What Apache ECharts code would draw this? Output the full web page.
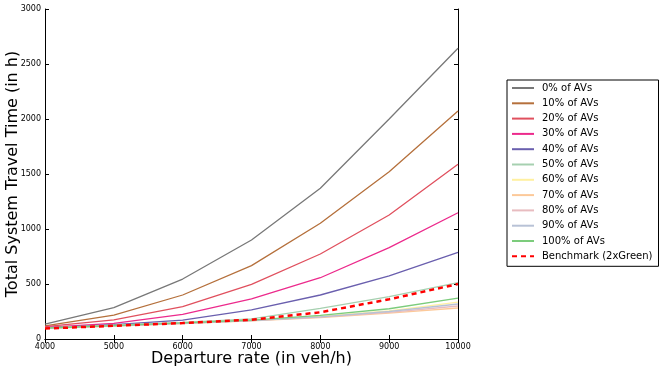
<!DOCTYPE html>
<html><head><meta charset="utf-8">
<script src="https://cdn.jsdelivr.net/npm/echarts@6/dist/echarts.min.js"></script>
<style>html,body{margin:0;padding:0;background:#fff}#c{width:665px;height:373px}</style>
</head><body><div id="c"></div>
<script>
const departureRates = [4000, 5000, 6000, 7000, 8000, 9000, 10000];
const seriesNames = ['0% of AVs','10% of AVs','20% of AVs','30% of AVs','40% of AVs','50% of AVs','60% of AVs','70% of AVs','80% of AVs','90% of AVs','100% of AVs','Benchmark (2xGreen)'];
const av0   = [135, 285, 545, 900, 1370, 2000, 2643];
const av10  = [120, 218, 400, 667, 1052, 1521, 2073];
const av20  = [112, 173, 294, 497, 773, 1127, 1588];
const av30  = [106, 142, 224, 364, 557, 830, 1148];
const av40  = [102, 130, 172, 264, 400, 573, 788];
const av50  = [100, 125, 152, 182, 279, 385, 512];
const av60  = [98, 120, 144, 170, 205, 255, 335];
const av70  = [96, 118, 140, 165, 195, 235, 282];
const av80  = [97, 119, 142, 167, 198, 242, 300];
const av90  = [98, 120, 143, 168, 202, 250, 318];
const av100 = [100, 122, 146, 172, 215, 275, 372];
const benchmark = [95, 120, 145, 175, 243, 361, 500];
const yTicks = [0, 500, 1000, 1500, 2000, 2500, 3000];

const allData = [av0, av10, av20, av30, av40, av50, av60, av70, av80, av90, av100, benchmark];
const colors = ['#787878','#b5703c','#e0505e','#ec2a8c','#6a5fae','#a6d0b0','#fff0a0','#fcc999','#e8bcc0','#b8c2d6','#7ccc7c','#ff0000'];

const series = allData.map((d, i) => ({
  name: seriesNames[i],
  type: 'line',
  symbol: 'none',
  showSymbol: false,
  xAxisIndex: 0, yAxisIndex: 0,
  z: i === 11 ? 10 : 2,
  lineStyle: { color: colors[i], width: i === 11 ? 2.5 : 1.3, type: i === 11 ? [5, 4] : 'solid' },
  itemStyle: { color: colors[i] },
  data: departureRates.map((x, k) => [x, d[k]])
}));

const chart = echarts.init(document.getElementById('c'), null, { renderer: 'canvas' });
const axisLine = { show: true, lineStyle: { color: '#000', width: 1 } };
chart.setOption({
  animation: false,
  backgroundColor: '#fff',
  grid: { left: 45, top: 9, right: 207, bottom: 34, containLabel: false, outerBoundsMode: 'none' },
  xAxis: [{
    type: 'value', min: 4000, max: 10000, interval: 1000,
    name: 'Departure rate (in veh/h)', nameLocation: 'middle', nameGap: 12, nameMoveOverlap: false,
    nameTextStyle: { fontSize: 16, color: '#000', fontFamily: 'DejaVu Sans', verticalAlign: 'top' },
    axisLine: axisLine,
    axisTick: { inside: true, length: 4, lineStyle: { color: '#000' } },
    axisLabel: { fontSize: 8, color: '#000', fontFamily: 'DejaVu Sans', margin: 4, formatter: v => String(v) },
    splitLine: { show: false }
  }, {
    type: 'value', min: 4000, max: 10000, interval: 1000, position: 'top',
    axisLine: axisLine,
    axisTick: { inside: true, length: 4, lineStyle: { color: '#000' } },
    axisLabel: { show: false }, splitLine: { show: false }
  }],
  yAxis: [{
    type: 'value', min: 0, max: 3000, interval: 500,
    name: 'Total System Travel Time (in h)', nameLocation: 'middle', nameGap: 24, nameMoveOverlap: false,
    nameTextStyle: { fontSize: 16, color: '#000', fontFamily: 'DejaVu Sans' },
    axisLine: axisLine,
    axisTick: { inside: true, length: 4, lineStyle: { color: '#000' } },
    axisLabel: { fontSize: 8, color: '#000', fontFamily: 'DejaVu Sans', margin: 4,
      formatter: v => yTicks.includes(v) ? String(v) : '' },
    splitLine: { show: false }
  }, {
    type: 'value', min: 0, max: 3000, interval: 500, position: 'right',
    axisLine: axisLine,
    axisTick: { inside: true, length: 4, lineStyle: { color: '#000' } },
    axisLabel: { show: false }, splitLine: { show: false }
  }],
  legend: {
    orient: 'vertical', left: 507, top: 80,
    data: seriesNames,
    borderColor: '#000', borderWidth: 1, borderRadius: 0,
    padding: [2, 6, 4, 4],
    itemWidth: 22, itemHeight: 12, itemGap: 3.3,
    itemStyle: { opacity: 0 },
    textStyle: { fontSize: 10, color: '#000', fontFamily: 'DejaVu Sans', lineHeight: 12, padding: [0, 0, 0, 3] }
  },
  series: series
});
</script></body></html>
